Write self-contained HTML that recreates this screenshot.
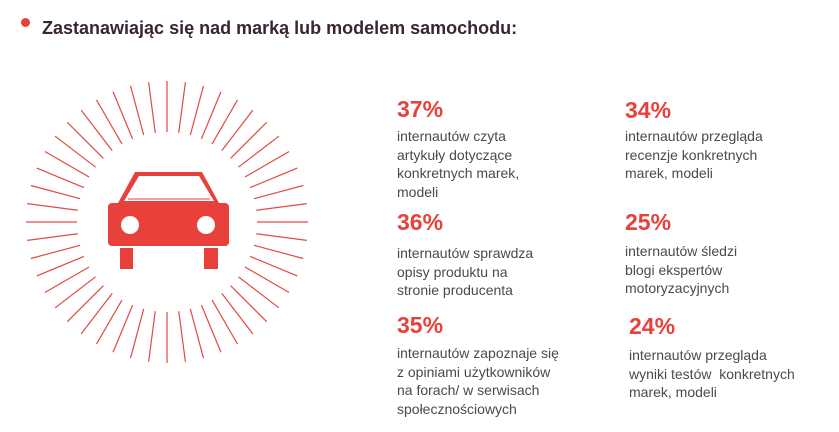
<!DOCTYPE html>
<html><head><meta charset="utf-8"><style>
body{margin:0;width:839px;height:432px;background:#fff;position:relative;overflow:hidden;font-family:"Liberation Sans",sans-serif}
.t{position:absolute;left:42px;top:18px;font-size:18px;font-weight:bold;color:#3a2535}
.p{position:absolute;font-size:23px;font-weight:bold;color:#e8413c;line-height:26px}
.d{position:absolute;font-size:14px;color:#4a4a4a;line-height:18.6px}
</style></head><body>
<div style="position:absolute;left:21px;top:18px;width:9px;height:9px;border-radius:50%;background:#e8413c"></div>
<div class="t">Zastanawiając się nad marką lub modelem samochodu:</div>
<svg id="s" width="839" height="432" style="position:absolute;left:0;top:0">
<g id="r" stroke="#e04a44" stroke-width="1.2"></g>
<path d="M135 172 L202 172 L219 203 L118 203 Z" fill="#e8413c"/>
<path d="M139 176 L199 176 L214 201 L124 201 Z" fill="#fff"/>
<line x1="128" y1="199" x2="210" y2="199" stroke="#e8413c" stroke-width="1"/>
<rect x="108" y="203" width="121" height="43" rx="4" fill="#e8413c"/>
<circle cx="130" cy="225" r="9" fill="#fff"/>
<circle cx="206" cy="225" r="9" fill="#fff"/>
<rect x="120" y="248" width="13" height="21" fill="#e8413c"/>
<rect x="204" y="248" width="14" height="21" fill="#e8413c"/>
</svg>
<script>
var g=document.getElementById('r'),h='';
for(var i=0;i<48;i++){var a=i*Math.PI*2/48,c=Math.cos(a),s=Math.sin(a);
h+='<line x1="'+(167+90*c)+'" y1="'+(222+90*s)+'" x2="'+(167+141*c)+'" y2="'+(222+141*s)+'"/>';}
g.innerHTML=h;
</script>
<div class="p" style="left:397px;top:96px">37%</div>
<div class="d" style="left:397px;top:127px">internautów czyta<br>artykuły dotyczące<br>konkretnych marek,<br>modeli</div>
<div class="p" style="left:397px;top:209px">36%</div>
<div class="d" style="left:397px;top:244px">internautów sprawdza<br>opisy produktu na<br>stronie producenta</div>
<div class="p" style="left:397px;top:312px">35%</div>
<div class="d" style="left:397px;top:344px">internautów zapoznaje się<br>z opiniami użytkowników<br>na forach/ w serwisach<br>społecznościowych</div>
<div class="p" style="left:625px;top:97px">34%</div>
<div class="d" style="left:625px;top:127px">internautów przegląda<br>recenzje konkretnych<br>marek, modeli</div>
<div class="p" style="left:625px;top:209px">25%</div>
<div class="d" style="left:625px;top:242px">internautów śledzi<br>blogi ekspertów<br>motoryzacyjnych</div>
<div class="p" style="left:629px;top:313px">24%</div>
<div class="d" style="left:629px;top:346px">internautów przegląda<br>wyniki testów &nbsp;konkretnych<br>marek, modeli</div>
</body></html>
